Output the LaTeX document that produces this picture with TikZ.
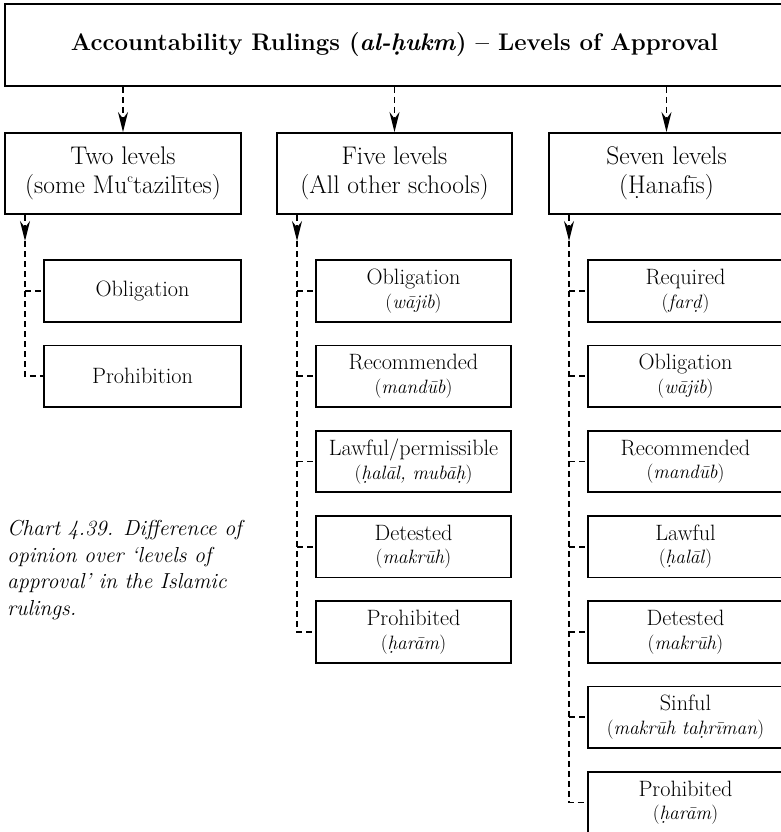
\documentclass[tikz,border=0pt]{standalone}
\usepackage{fontspec}
\usetikzlibrary{arrows.meta}
\newcommand\ainmark{\raisebox{0.45em}{\fontsize{13}{13}\selectfont c}}
\newcommand\trl[1]{{\fontsize{19.3}{23}\selectfont(\textit{#1})}}
\begin{document}
\begin{tikzpicture}[x=1pt,y=-1pt,
  box/.style={draw,line width=1.9pt,rectangle,inner sep=0pt,align=center},
  con/.style={line width=1.6pt,dash pattern=on 6pt off 4pt},
  arr/.style={con,-{Stealth[length=20pt,width=10pt]}},
  titlef/.style={font=\fontsize{24}{28}\selectfont\bfseries},
  levbox/.style={box,minimum height=81pt,font=\fontsize{25.5}{29}\selectfont},
  subbox/.style={box,minimum height=61.5pt,font=\fontsize{22.2}{23.5}\selectfont}]
\useasboundingbox (0,0) rectangle (781,832);
\clip (0,0) rectangle (781,832);
% title
\node[box,titlef,minimum width=779pt,minimum height=82pt] (title) at (394.5,45)
  {Accountability Rulings (\textit{al-ḥukm}) -- Levels of Approval};
% level boxes
\node[levbox,minimum width=236pt] (two) at (123,173.5) {Two levels\\(some Mu\ainmark tazilītes)};
\node[levbox,minimum width=235pt] (five) at (394.5,173.5) {Five levels\\(All other schools)};
\node[levbox,minimum width=235pt] (seven) at (666.5,173.5) {Seven levels\\(Ḥanafīs)};
\foreach \n in {two,five,seven}
  \draw[arr] (title.south -| \n.north) -- (\n.north);
% two column
\node[subbox,minimum width=197pt] (t1) at (142.5,291) {Obligation};
\node[subbox,minimum width=197pt] (t2) at (142.5,376.25) {Prohibition};
% five column
\node[subbox,minimum width=195pt] (f1) at (413.5,291) {Obligation\\\trl{wājib}};
\node[subbox,minimum width=195pt] (f2) at (413.5,376.25) {Recommended\\\trl{mandūb}};
\node[subbox,minimum width=195pt] (f3) at (413.5,461.5) {Lawful/permissible\\\trl{ḥalāl, mubāḥ}};
\node[subbox,minimum width=195pt] (f4) at (413.5,546.75) {Detested\\\trl{makrūh}};
\node[subbox,minimum width=195pt] (f5) at (413.5,632) {Prohibited\\\trl{ḥarām}};
% seven column
\node[subbox,minimum width=195pt] (s1) at (685.5,291) {Required\\\trl{farḍ}};
\node[subbox,minimum width=195pt] (s2) at (685.5,376.25) {Obligation\\\trl{wājib}};
\node[subbox,minimum width=195pt] (s3) at (685.5,461.5) {Recommended\\\trl{mandūb}};
\node[subbox,minimum width=195pt] (s4) at (685.5,546.75) {Lawful\\\trl{ḥalāl}};
\node[subbox,minimum width=195pt] (s5) at (685.5,632) {Detested\\\trl{makrūh}};
\node[subbox,minimum width=195pt] (s6) at (685.5,717.25) {Sinful\\\trl{makrūh taḥrīman}};
\node[subbox,minimum width=195pt] (s7) at (685.5,802.5) {Prohibited\\\trl{ḥarām}};
% connectors
\coordinate (ta) at (25,241);
\coordinate (fa) at (297,241);
\coordinate (sa) at (569,241);
\draw[arr] (two.south -| ta) -- (ta);
\draw[arr] (five.south -| fa) -- (fa);
\draw[arr] (seven.south -| sa) -- (sa);
\draw[con] (ta) |- (t2.west);
\draw[con] (t1.west -| ta) -- (t1.west);
\draw[con] (fa) |- (f5.west);
\foreach \b in {f1,f2,f3,f4} \draw[con] (\b.west -| fa) -- (\b.west);
\draw[con] (sa) |- (s7.west);
\foreach \b in {s1,s2,s3,s4,s5,s6} \draw[con] (\b.west -| sa) -- (\b.west);
% caption
\node[anchor=north west,inner sep=0pt,align=left,font=\fontsize{21.7}{26.7}\selectfont\itshape] (cap) at (7,520)
  {Chart 4.39. Difference of\\opinion over `levels of\\approval' in the Islamic\\rulings.};
\end{tikzpicture}
\end{document}
